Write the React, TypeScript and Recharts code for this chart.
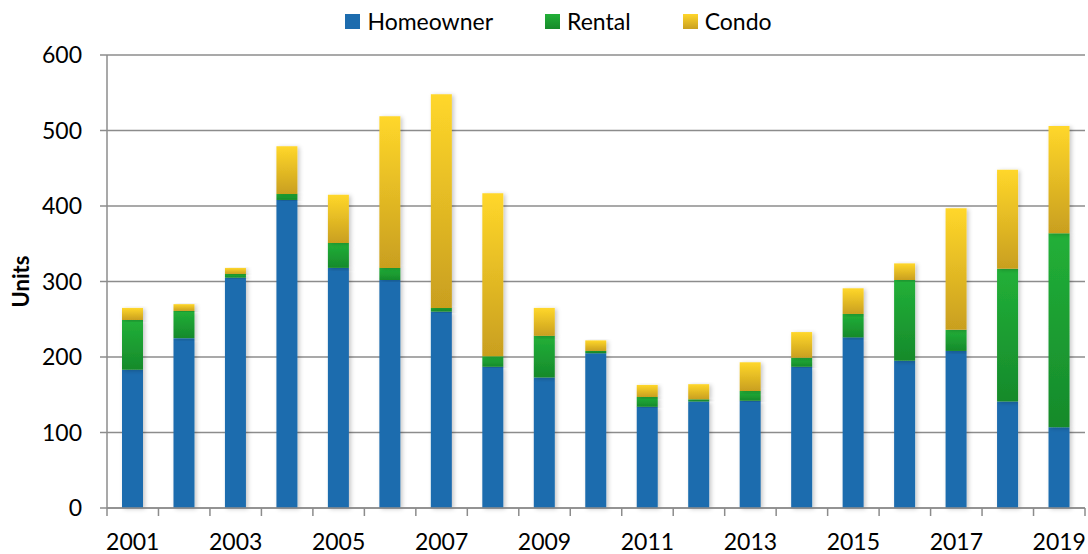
import React from 'react';
import { BarChart, Bar, XAxis, YAxis, CartesianGrid, Legend } from 'recharts';

const years = ['2001', '2002', '2003', '2004', '2005', '2006', '2007', '2008', '2009', '2010',
    '2011', '2012', '2013', '2014', '2015', '2016', '2017', '2018', '2019'];
const homeowner = [183, 225, 305, 408, 318, 302, 260, 187, 173, 205, 134, 141, 142, 187, 226, 195, 208, 141, 107];
const rental = [66, 36, 5, 8, 33, 16, 5, 14, 55, 3, 13, 3, 13, 12, 31, 107, 28, 176, 257];
const condo = [16, 9, 8, 63, 64, 201, 283, 216, 37, 14, 16, 20, 38, 34, 34, 22, 161, 131, 142];
const yTicks = [0, 100, 200, 300, 400, 500, 600];

const data = years.map((year, i) => ({
    year,
    homeowner: homeowner[i],
    rental: rental[i],
    condo: condo[i],
}));

const W = 1088;
const H = 554;
const LEGEND_H = 40;
const MARGIN = { top: 55 - LEGEND_H, right: 3, bottom: 0, left: 0 };
const Y_AXIS_W = 107;
const BAND = (W - MARGIN.left - MARGIN.right - Y_AXIS_W) / years.length;
const FONT = 'Lato, "Open Sans", sans-serif';

const YearTick = (props: any) => {
    const { x, y, payload, index } = props;
    const last = index === years.length - 1;
    return (
        <g>
            <line x1={x - BAND / 2} x2={x - BAND / 2} y1={y} y2={y + 8} stroke="#8c8c8c" strokeWidth={1.5} />
            {last && <line x1={x + BAND / 2} x2={x + BAND / 2} y1={y} y2={y + 8} stroke="#8c8c8c" strokeWidth={1.5} />}
            {index % 2 === 0 && (
                <text x={x} y={y + 42} textAnchor="middle" fill="#000" fontSize={23} fontFamily={FONT}>
                    {payload.value}
                </text>
            )}
        </g>
    );
};

const legendItems = [
    { name: 'Homeowner', bg: '#1d6cae' },
    { name: 'Rental', bg: 'linear-gradient(#22b038, #178a2a)' },
    { name: 'Condo', bg: 'linear-gradient(#ffd52a, #c9a020)' },
];

const LegendContent = () => (
    <div style={{ display: 'flex', justifyContent: 'center', gap: 52, height: LEGEND_H, boxSizing: 'border-box', paddingTop: 2, paddingLeft: 32, alignItems: 'center', fontFamily: FONT, fontSize: 23 }}>
        {legendItems.map(it => (
            <div key={it.name} style={{ display: 'flex', alignItems: 'center' }}>
                <span style={{ width: 15, height: 15, background: it.bg, display: 'inline-block', marginRight: 7 }} />
                <span style={{ color: '#000' }}>{it.name}</span>
            </div>
        ))}
    </div>
);

const App: React.FC = () => {
    return (
        <div style={{ position: 'absolute', left: 0, top: 0, width: W, height: H, background: '#fff' }}>
            <BarChart width={W} height={H} data={data} margin={MARGIN} barCategoryGap="0%">
                <defs>
                    <linearGradient id="gRental" x1="0" y1="0" x2="0" y2="1">
                        <stop offset="0%" stopColor="#22b038" />
                        <stop offset="100%" stopColor="#168a2b" />
                    </linearGradient>
                    <linearGradient id="gCondo" x1="0" y1="0" x2="0" y2="1">
                        <stop offset="0%" stopColor="#ffd72a" />
                        <stop offset="100%" stopColor="#c99f1f" />
                    </linearGradient>
                    <filter id="shadow" x="-30%" y="-10%" width="160%" height="120%">
                        <feDropShadow dx={2} dy={1} stdDeviation={2} floodColor="#000" floodOpacity={0.22} />
                    </filter>
                </defs>
                <CartesianGrid vertical={false} stroke="#8c8c8c" strokeWidth={1.5} />
                <XAxis
                    dataKey="year"
                    height={46}
                    interval={0}
                    tickLine={false}
                    tickSize={0}
                    tickMargin={0}
                    tick={<YearTick />}
                    axisLine={{ stroke: '#8c8c8c', strokeWidth: 1.5 }}
                />
                <YAxis
                    width={Y_AXIS_W}
                    domain={[0, 600]}
                    ticks={yTicks}
                    interval={0}
                    tickSize={7}
                    tickMargin={18}
                    tickLine={{ stroke: '#8c8c8c', strokeWidth: 1.5 }}
                    axisLine={{ stroke: '#8c8c8c', strokeWidth: 1.5 }}
                    tick={{ fill: '#000', fontSize: 23, fontFamily: FONT }}
                    label={{ value: 'Units', angle: -90, position: 'insideLeft', offset: 21, style: { fontWeight: 700, fontSize: 22, fill: '#000', fontFamily: FONT, textAnchor: 'middle' } }}
                />
                <Legend verticalAlign="top" height={LEGEND_H} content={<LegendContent />} wrapperStyle={{ top: 0 }} />
                <Bar dataKey="homeowner" name="Homeowner" stackId="a" fill="#1d6cae" barSize={21} filter="url(#shadow)" isAnimationActive={false} />
                <Bar dataKey="rental" name="Rental" stackId="a" fill="url(#gRental)" barSize={21} filter="url(#shadow)" isAnimationActive={false} />
                <Bar dataKey="condo" name="Condo" stackId="a" fill="url(#gCondo)" barSize={21} filter="url(#shadow)" isAnimationActive={false} />
            </BarChart>
        </div>
    );
};

export default App;
